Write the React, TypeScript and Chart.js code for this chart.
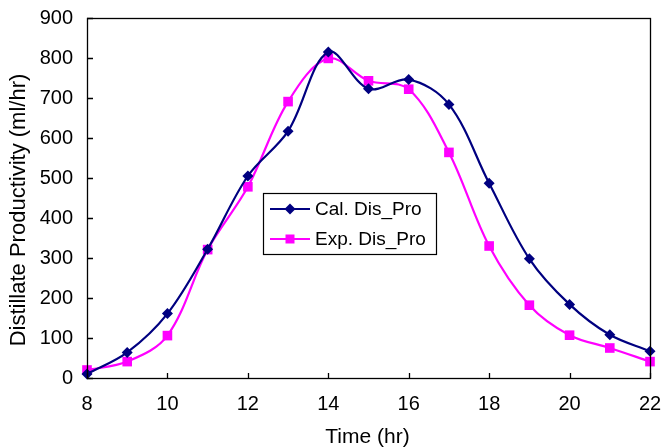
import React, { useEffect, useRef } from "react";
import { Chart, registerables } from "chart.js";

Chart.register(...registerables);

const hours = [8, 9, 10, 11, 12, 13, 14, 15, 16, 17, 18, 19, 20, 21, 22];
const calDisPro = [10, 64, 161, 322, 505, 617, 815, 723, 746, 684, 487, 298, 184, 108, 67];
const expDisPro = [20, 41, 106, 321, 478, 691, 799, 743, 722, 564, 330, 182, 107, 75, 41];
const seriesNames = ["Cal. Dis_Pro", "Exp. Dis_Pro"];
const seriesColors = ["#000080", "#FF00FF"];
const xTitle = "Time (hr)";
const yTitle = "Distillate Productivity (ml/hr)";

const FONT = "'Liberation Sans', Arial, sans-serif";

const decorPlugin = {
  id: "decor",
  afterDatasetsDraw(chart: any) {
    const { ctx, chartArea } = chart;
    const { left, right, top, bottom } = chartArea;
    const xs = chart.scales.x;
    const ys = chart.scales.y;
    ctx.save();
    // frame
    ctx.strokeStyle = "#000";
    ctx.lineWidth = 1.3;
    ctx.strokeRect(Math.round(left) + 0.5, Math.round(top) + 0.5, Math.round(right - left), Math.round(bottom - top));
    // inside ticks
    ctx.beginPath();
    xs.ticks.forEach((t: any) => {
      const px = Math.round(xs.getPixelForValue(t.value)) + 0.5;
      ctx.moveTo(px, bottom);
      ctx.lineTo(px, bottom - 5);
    });
    ys.ticks.forEach((t: any) => {
      const py = Math.round(ys.getPixelForValue(t.value)) + 0.5;
      ctx.moveTo(left, py);
      ctx.lineTo(left + 6, py);
    });
    ctx.stroke();

    // legend
    const lx = left + 176;
    const ly = top + 175;
    const lw = 173;
    const lh = 61;
    ctx.fillStyle = "#fff";
    ctx.fillRect(lx, ly, lw, lh);
    ctx.lineWidth = 1.2;
    ctx.strokeStyle = "#000";
    ctx.strokeRect(lx + 0.5, ly + 0.5, lw, lh);
    seriesNames.forEach((name, i) => {
      const cy = ly + 16 + i * 30;
      const color = seriesColors[i];
      ctx.strokeStyle = color;
      ctx.fillStyle = color;
      ctx.lineWidth = 2;
      ctx.beginPath();
      ctx.moveTo(lx + 7, cy);
      ctx.lineTo(lx + 47, cy);
      ctx.stroke();
      const mx = lx + 27;
      ctx.beginPath();
      if (i === 0) {
        ctx.moveTo(mx - 5.5, cy);
        ctx.lineTo(mx, cy - 5.5);
        ctx.lineTo(mx + 5.5, cy);
        ctx.lineTo(mx, cy + 5.5);
        ctx.closePath();
      } else {
        ctx.rect(mx - 4.5, cy - 4.5, 9, 9);
      }
      ctx.fill();
      ctx.fillStyle = "#000";
      ctx.font = `19px ${FONT}`;
      ctx.textAlign = "left";
      ctx.textBaseline = "middle";
      ctx.fillText(name, lx + 52, cy + 1);
    });

    // axis titles
    ctx.fillStyle = "#000";
    ctx.font = `21px ${FONT}`;
    ctx.textAlign = "center";
    ctx.textBaseline = "alphabetic";
    ctx.fillText(xTitle, (left + right) / 2 - 1, bottom + 65);

    ctx.save();
    ctx.font = `22px ${FONT}`;
    ctx.translate(left - 62, (top + bottom) / 2 + 12);
    ctx.rotate(-Math.PI / 2);
    ctx.textAlign = "center";
    ctx.textBaseline = "alphabetic";
    ctx.fillText(yTitle, 0, 0);
    ctx.restore();

    ctx.restore();
  },
};

export default function App() {
  const canvasRef = useRef<HTMLCanvasElement | null>(null);

  useEffect(() => {
    document.body.style.margin = "0";
    const canvas = canvasRef.current;
    if (!canvas) return;
    const chart = new Chart(canvas, {
      type: "line",
      data: {
        datasets: [
          {
            label: seriesNames[0],
            data: hours.map((h, i) => ({ x: h, y: calDisPro[i] })),
            borderColor: seriesColors[0],
            backgroundColor: seriesColors[0],
            borderWidth: 2.2,
            pointStyle: "rectRot",
            pointRadius: 5.5,
            pointBorderWidth: 0,
            pointBackgroundColor: seriesColors[0],
            tension: 0.35,
            clip: false,
            order: 1,
          },
          {
            label: seriesNames[1],
            data: hours.map((h, i) => ({ x: h, y: expDisPro[i] })),
            borderColor: seriesColors[1],
            backgroundColor: seriesColors[1],
            borderWidth: 2.2,
            pointStyle: "rect",
            pointRadius: 6.8,
            pointBorderWidth: 0,
            pointBackgroundColor: seriesColors[1],
            tension: 0.35,
            clip: false,
            order: 2,
          },
        ],
      },
      options: {
        responsive: false,
        animation: false,
        layout: { padding: { left: 0, right: 12, top: 18, bottom: 0 } },
        plugins: {
          legend: { display: false },
          tooltip: { enabled: false },
        },
        scales: {
          x: {
            type: "linear",
            min: 8,
            max: 22,
            grid: { display: false, drawTicks: false },
            border: { display: false },
            ticks: {
              stepSize: 2,
              padding: 14,
              color: "#000",
              font: { family: FONT, size: 20 },
              maxRotation: 0,
            },
            afterFit: (s: any) => {
              s.height = 70;
              s.paddingLeft = 0;
              s.paddingRight = 0;
            },
          },
          y: {
            type: "linear",
            min: 0,
            max: 900,
            grid: { display: false, drawTicks: false },
            border: { display: false },
            ticks: {
              stepSize: 100,
              padding: 14,
              color: "#000",
              font: { family: FONT, size: 20 },
            },
            afterFit: (s: any) => {
              s.width = 87;
              s.paddingTop = 0;
              s.paddingBottom = 0;
            },
          },
        },
      },
      plugins: [decorPlugin],
    });
    return () => chart.destroy();
  }, []);

  return (
    <div style={{ position: "absolute", left: 0, top: 0, width: 662, height: 448, background: "#fff" }}>
      <canvas ref={canvasRef} width={662} height={448} />
    </div>
  );
}
